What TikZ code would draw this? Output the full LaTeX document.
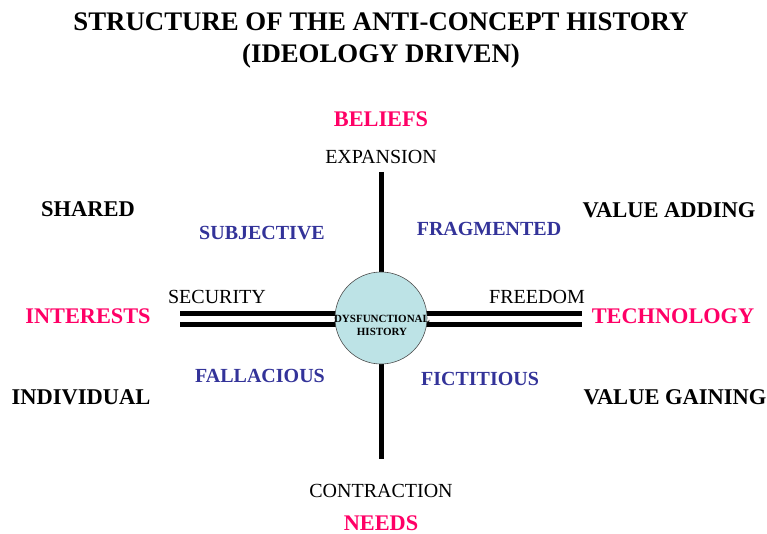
\documentclass[tikz,border=0pt]{standalone}
\usepackage{fontspec}
\setmainfont{Liberation Serif}
\definecolor{pinkc}{HTML}{FF0066}
\definecolor{bluec}{HTML}{333399}
\definecolor{circfill}{HTML}{BDE3E6}
\begin{document}
\begin{tikzpicture}[x=1pt,y=-1pt,
  ttl/.style={font=\bfseries\fontsize{26.8}{30}\selectfont, anchor=center},
  pinklbl/.style={font=\bfseries\fontsize{22.3}{24}\selectfont, text=pinkc, inner sep=0pt},
  blacklbl/.style={font=\bfseries\fontsize{22.5}{24}\selectfont, text=black, inner sep=0pt},
  bluelbl/.style={font=\bfseries\fontsize{20}{22}\selectfont, text=bluec, inner sep=0pt},
  axlbl/.style={font=\fontsize{20}{22}\selectfont, text=black, inner sep=0pt},
  axis/.style={line width=5pt},
  hub/.style={circle, draw=black!70, line width=0.6pt, fill=circfill, minimum size=92pt, inner sep=0pt}]
\useasboundingbox (0,0) rectangle (767,534);
% axes
\coordinate (vt) at (381,172);
\coordinate (vb) at (381,459);
\coordinate (hlt) at (180,313);
\coordinate (hlb) at (180,324);
\coordinate (hrt) at (582,313);
\coordinate (hrb) at (582,324);
\coordinate (c) at (381,318);
\draw[axis] (vt) -- (vb);
\draw[axis] (hlt) -- (hrt);
\draw[axis] (hlb) -- (hrb);
\node[hub] (hubc) at (c) {};
\node[font=\bfseries\fontsize{11}{13}\selectfont, align=center, inner sep=0pt] (hubt) at (382,325) {DYSFUNCTIONAL\\HISTORY};
% title
\node[ttl] (t1) at (381,22) {STRUCTURE OF THE ANTI-CONCEPT HISTORY};
\node[ttl] (t2) at (381,56) {(IDEOLOGY DRIVEN)};
% labels
\node[pinklbl] (beliefs) at (381,119) {BELIEFS};
\node[axlbl] (exp) at (381,157) {EXPANSION};
\node[blacklbl] (shared) at (88,209) {SHARED};
\node[bluelbl] (subj) at (262,233) {SUBJECTIVE};
\node[bluelbl] (frag) at (489,229) {FRAGMENTED};
\node[blacklbl] (vadd) at (669,210) {VALUE ADDING};
\node[axlbl] (sec) at (217,297) {SECURITY};
\node[pinklbl] (int) at (88,316) {INTERESTS};
\node[axlbl] (free) at (537,297) {FREEDOM};
\node[pinklbl] (tech) at (673,316) {TECHNOLOGY};
\node[blacklbl] (indiv) at (81,397) {INDIVIDUAL};
\node[bluelbl] (fall) at (260,376) {FALLACIOUS};
\node[bluelbl] (fict) at (480,379) {FICTITIOUS};
\node[blacklbl] (vgain) at (675,397) {VALUE GAINING};
\node[axlbl] (contr) at (381,491) {CONTRACTION};
\node[pinklbl] (needs) at (381,523) {NEEDS};
\end{tikzpicture}
\end{document}
